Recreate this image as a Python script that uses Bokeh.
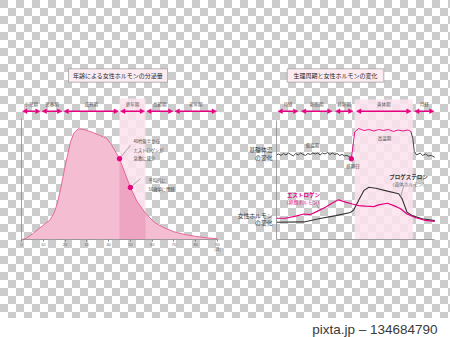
from bokeh.plotting import figure
from bokeh.models import (Range1d, LinearAxis, FixedTicker, ColumnDataSource,
                          Arrow, NormalHead)
from bokeh.layouts import row, column
from bokeh.core.properties import value
from bokeh.embed import file_html
from bokeh.resources import INLINE

FONT = "Noto Sans CJK JP"
MAGENTA = "#e4007f"
DARK = "#333333"

# ---------------- left chart data ----------------
left_title = "年齢による女性ホルモンの分泌量"
life_stages = ["小児期", "思春期", "成熟期", "更年期", "高齢期", "老年期"]
stage_bounds = [0, 9, 19, 45, 57, 70, 90]
menopause_index = 3
ages = [0, 2, 5, 8, 11, 13, 15, 16.5, 18, 19.5, 21, 22.5, 24, 26, 28, 30, 33, 36,
        39, 41, 43, 45, 47.5, 50, 53, 57, 61, 65, 70, 75, 80, 85, 90]
hormone_level = [0, 0.8, 5, 9.8, 14.5, 17.5, 24, 33, 46, 61, 75, 88, 96, 100, 99.5,
                 98.5, 96.5, 94, 91.5, 86.5, 80, 73, 60, 47, 34.5, 23.5, 15.5, 11,
                 7, 4.5, 2.8, 1.5, 0.6]
age_ticks = [0, 10, 20, 30, 40, 50, 60, 70, 80, 90]
age_unit = "(歳)"
note_ages = [45, 50]
note_levels = [73, 47]
note_texts = ["40代後半から\nエストロゲンが\n急激に減少", "平均的に\n50歳頃に閉経"]

# ---------------- right chart data ----------------
right_title = "生理周期と女性ホルモンの変化"
cycle_phases = ["月経", "卵胞期", "排卵期", "黄体期", "月経"]
phase_bounds = [0, 4.8, 11.8, 16.1, 28.0, 32.7]
luteal_index = 3
temp_days = [0, 0.5, 1, 1.5, 2, 2.5, 3, 3.5, 4, 4.5, 5, 5.5, 6, 6.5, 7, 7.5, 8, 8.5,
             9, 9.5, 10, 10.5, 11, 11.5, 12, 12.5, 13, 13.5, 14, 14.5, 15, 15.4,
             16.1, 16.9, 18, 19, 20, 21, 22, 23, 24, 25, 26, 27, 27.6,
             28.0, 28.3, 28.8, 29.5, 30.0, 30.6, 31.2, 31.8, 32.5]
basal_temp = [36.29, 36.31, 36.28, 36.32, 36.29, 36.33, 36.30, 36.27, 36.32, 36.29,
              36.33, 36.30, 36.28, 36.32, 36.30, 36.33, 36.31, 36.33, 36.29, 36.33,
              36.31, 36.34, 36.30, 36.33, 36.30, 36.32, 36.28, 36.30, 36.27, 36.28,
              36.25, 36.21,
              36.77, 36.84, 36.80, 36.82, 36.79, 36.82, 36.80, 36.82, 36.78, 36.81,
              36.79, 36.81, 36.78,
              36.63, 36.36, 36.29, 36.33, 36.28, 36.31, 36.27, 36.28, 36.24]
ovulation_day = 15.4
high_temp_end = 27.6
est_days = [0, 1.9, 4.0, 5.7, 7.0, 8.4, 10.1, 11.5, 12.8, 14.2, 15.6, 16.9, 18.3,
            20.0, 21.0, 22.8, 24.1, 25.5, 26.8, 28.6, 30.6, 32.5]
estrogen = [41, 41, 45, 49, 48, 54, 62, 70, 76, 71.5, 68, 65, 64, 63, 66.5, 69.5,
            65, 59, 49, 42, 37, 35]
prog_days = [0, 5.7, 8.7, 12.2, 15.2, 15.9, 16.9, 18.0, 19.0, 20.4, 22.8, 25.1,
             25.8, 26.8, 27.9, 29.9, 32.5]
progesterone = [33.5, 34, 40, 46, 52, 57, 75, 94, 100, 98, 92.5, 87.5, 78, 52.5,
                46, 40, 36.5]

credit = "pixta.jp – 134684790"


def make_fig(xr, yr, extra_y=None):
    ey = {"px": Range1d(318, 0)}
    if extra_y:
        ey.update(extra_y)
    p = figure(width=225, height=318, x_range=xr, y_range=yr,
               x_axis_type=None, y_axis_type=None, toolbar_location=None,
               output_backend="svg", min_border=0)
    p.min_border_left = p.min_border_right = 0
    p.min_border_top = p.min_border_bottom = 0
    p.background_fill_color = None
    p.border_fill_color = None
    p.outline_line_color = None
    p.extra_x_ranges = {"px": Range1d(0, 225)}
    p.extra_y_ranges = ey
    return p


def title_box(p, cx, w, text):
    p.rect(x=[cx], y=[75], width=[w], height=[13.4], x_range_name="px",
           y_range_name="px", fill_color="#fcecf2", line_color="#999999",
           line_width=0.7)
    p.text(x=[cx], y=[75.3], text=[text], x_range_name="px", y_range_name="px",
           text_font=value(FONT), text_font_size="6px", text_color="#222222",
           text_align="center", text_baseline="middle")


def period_arrows(p, bounds, names, gap):
    x0 = [b + gap for b in bounds[:-1]]
    x1 = [b - gap for b in bounds[1:]]
    src = ColumnDataSource(dict(x0=x0, x1=x1, y=[110.7] * len(names)))
    head = dict(size=4.5, fill_color=MAGENTA, line_color=MAGENTA, line_width=0.5)
    p.add_layout(Arrow(start=NormalHead(**head), end=NormalHead(**head),
                       x_start="x0", y_start="y", x_end="x1", y_end="y",
                       source=src, line_color=MAGENTA, line_width=1.6,
                       y_range_name="px"))
    mids = [(a + b) / 2 for a, b in zip(bounds[:-1], bounds[1:])]
    p.text(x=mids, y=[103.5] * len(names), text=names, y_range_name="px",
           text_font=value(FONT), text_font_size="4.5px", text_color="#555555",
           text_align="center", text_baseline="middle")


def plain_axis(loc, bounds, side, p, ticks=None):
    ax = LinearAxis(fixed_location=loc, bounds=bounds,
                    ticker=FixedTicker(ticks=ticks or []))
    ax.axis_line_color = "#8a8a8a"
    ax.axis_line_width = 0.8
    ax.major_tick_line_color = "#8a8a8a" if ticks else None
    ax.major_tick_out = 2
    ax.major_tick_in = 0
    ax.minor_tick_line_color = None
    ax.major_label_text_font_size = "4px" if ticks else "0px"
    ax.major_label_text_color = "#666666"
    ax.major_label_standoff = 1
    p.add_layout(ax, side)


# ================= left panel =================
pL = make_fig(Range1d(-9.643, 93.673), Range1d(-71.36, 215.9))
m0, m1 = stage_bounds[menopause_index], stage_bounds[menopause_index + 1]
pL.quad(left=[m0], right=[m1], top=[98], bottom=[239], y_range_name="px",
        fill_color="#fbe2ec", fill_alpha=0.85, line_color=None)
pL.varea(x=ages, y1=[0] * len(ages), y2=hormone_level, fill_color="#f5bdd2")
band = [(a, v) for a, v in zip(ages, hormone_level) if m0 <= a <= m1]
pL.varea(x=[a for a, _ in band], y1=[0] * len(band), y2=[v for _, v in band],
         fill_color="#eea5c2")
pL.line(ages, hormone_level, line_color="#e5699b", line_width=1)
plain_axis(0, (0, 90), "below", pL, age_ticks)
plain_axis(0, (0, 109), "left", pL)
pL.text(x=[age_ticks[-1]], y=[248], y_range_name="px", text=[age_unit],
        text_font=value(FONT), text_font_size="4px", text_color="#666666",
        text_align="center", text_baseline="middle")
pL.segment(x0=note_ages, y0=note_levels,
           x1=[note_ages[0] + 5.0, note_ages[1] + 4.6],
           y1=[note_levels[0] + 12, note_levels[1] + 8],
           line_color="#777777", line_width=0.6)
pL.scatter(note_ages, note_levels, size=4.5, color=MAGENTA)
pL.text(x=[133, 148], y=[137.5, 176.8], text=note_texts, x_range_name="px",
        y_range_name="px", text_font=value(FONT), text_font_size="4.3px",
        text_color="#444444", text_align="left", text_baseline="top",
        text_line_height=1.45)
period_arrows(pL, stage_bounds, life_stages, 0.45)
title_box(pL, 117.5, 99, left_title)

# ================= right panel =================
pR = make_fig(Range1d(-10.39, 35.72), Range1d(-149.6, 454.9),
              {"temp": Range1d(32.883, 39.508)})
l0, l1 = phase_bounds[luteal_index], phase_bounds[luteal_index + 1]
pR.quad(left=[l0], right=[l1], top=[99], bottom=[239.3], y_range_name="px",
        fill_color="#fbe2ec", fill_alpha=0.85, line_color=None)
plain_axis(0, (0, phase_bounds[-1] - 0.2), "below", pR)
plain_axis(0, (0, 227), "left", pR)

low = [(d, t) for d, t in zip(temp_days, basal_temp) if d <= ovulation_day]
high = [(d, t) for d, t in zip(temp_days, basal_temp)
        if ovulation_day <= d <= high_temp_end]
after = [(d, t) for d, t in zip(temp_days, basal_temp) if d >= high_temp_end]
for seg, col in ((low, DARK), (after, DARK), (high, MAGENTA)):
    pR.line([d for d, _ in seg], [t for _, t in seg], y_range_name="temp",
            line_color=col, line_width=0.9)
ov_t = basal_temp[temp_days.index(ovulation_day)]
pR.scatter([ovulation_day], [ov_t], y_range_name="temp", size=4.5, color=MAGENTA)

pR.line(prog_days, progesterone, line_color=DARK, line_width=1.1)
pR.line(est_days, estrogen, line_color=MAGENTA, line_width=1.2)
pR.segment(x0=[8.26, 26.15], y0=[67, 103], x1=[8.9, 25.5], y1=[57, 82],
           line_color="#777777", line_width=0.6)

period_arrows(pR, phase_bounds, cycle_phases, 0.35)
title_box(pR, 110, 96.6, right_title)

kw = dict(x_range_name="px", y_range_name="px", text_font=value(FONT),
          text_baseline="middle")
pR.text(x=[47, 47, 47, 47], y=[149, 156.5, 215, 222],
        text=["基礎体温", "の変化", "女性ホルモン", "の変化"],
        text_font_size="5.8px", text_color="#333333", text_align="right", **kw)
pR.text(x=[87, 159, 127.5], y=[144.3, 137.7, 165], text=["低温期", "高温期", "排卵日"],
        text_font_size="4.5px", text_color="#444444", text_align="center", **kw)
pR.text(x=[78], y=[194], text=["エストロゲン"], text_font_size="5.5px",
        text_font_style="bold", text_color=MAGENTA, text_align="center", **kw)
pR.text(x=[77.5], y=[200.7], text=["（卵胞ホルモン）"], text_font_size="4.8px",
        text_color=MAGENTA, text_align="center", **kw)
pR.text(x=[183], y=[176], text=["プロゲステロン"], text_font_size="5.5px",
        text_font_style="bold", text_color="#333333", text_align="center", **kw)
pR.text(x=[183], y=[183], text=["（黄体ホルモン）"], text_font_size="4.7px",
        text_color="#666666", text_align="center", **kw)

# ================= footer =================
pF = figure(width=450, height=19, x_range=Range1d(0, 450), y_range=Range1d(0, 19),
            x_axis_type=None, y_axis_type=None, toolbar_location=None,
            output_backend="svg", min_border=0)
pF.min_border_left = pF.min_border_right = 0
pF.min_border_top = pF.min_border_bottom = 0
pF.outline_line_color = None
pF.background_fill_color = "#ffffff"
pF.border_fill_color = "#ffffff"
pF.text(x=[437], y=[7.7], text=[credit], text_font=value("Liberation Sans"),
        text_font_size="13.5px", text_color="#3a3a3a", text_align="right",
        text_baseline="middle")

checker = {"background": "repeating-conic-gradient(#ffffff 0% 25%, #cccccc 0% 50%) 0 0 / 16px 16px"}
charts = row(pL, pR, styles=checker)
layout = column(charts, pF, styles={"background": "#ffffff"})

open("out.html", "w").write(file_html(layout, INLINE))
